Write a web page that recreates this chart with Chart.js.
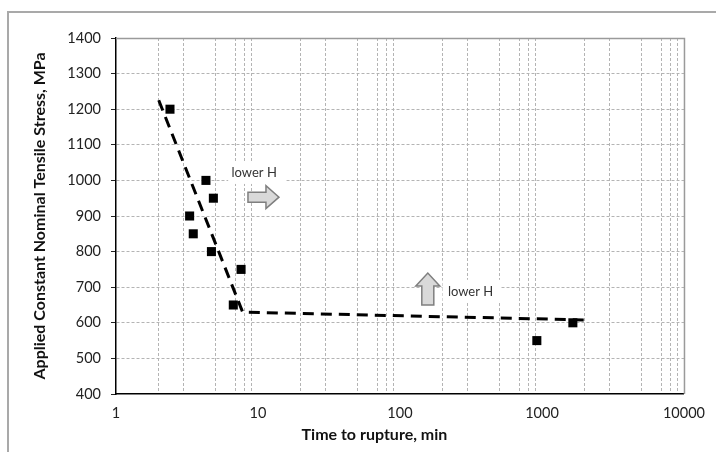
<!DOCTYPE html>
<html>
<head>
<meta charset="utf-8">
<script src="https://cdn.jsdelivr.net/npm/chart.js@4"></script>
<style>
  html, body { margin: 0; padding: 0; background: #ffffff; }
  #wrap { width: 716px; height: 452px; position: relative; }
</style>
</head>
<body>
<div id="wrap"><canvas id="c" width="716" height="452"></canvas></div>
<script>
// ---- data ----
const timeToRupture = [2.4, 4.3, 4.85, 3.3, 3.5, 4.7, 7.6, 6.7, 920, 1650];
const appliedStress = [1200, 1000, 950, 900, 850, 800, 750, 650, 550, 600];
const trendTime = [2.0, 7.8, 2000];
const trendStress = [1225, 630, 608];
const xMajorTicks = [1, 10, 100, 1000, 10000];
const yTickValues = [400, 500, 600, 700, 800, 900, 1000, 1100, 1200, 1300, 1400];
const annotationText = ['lower H', 'lower H'];
const xTitle = 'Time to rupture, min';
const yTitle = 'Applied Constant Nominal Tensile Stress, MPa';

const pointsData = timeToRupture.map((t, i) => ({ x: t, y: appliedStress[i] }));
const trendData = trendTime.map((t, i) => ({ x: t, y: trendStress[i] }));

const minorShown = [2, 3, 5, 7, 8, 9];
function mantissa(v) {
  const e = Math.floor(Math.log10(v) + 1e-9);
  return Math.round(v / Math.pow(10, e));
}

const FONT = 'Lato, "Open Sans", "DejaVu Sans", sans-serif';

const decorPlugin = {
  id: 'decor',
  beforeDraw(chart) {
    const ctx = chart.ctx;
    ctx.save();
    ctx.strokeStyle = '#a9a9a9';
    ctx.lineWidth = 2;
    ctx.strokeRect(8, 12, 760, 500);
    ctx.restore();
  },
  beforeDatasetsDraw(chart) {
    const ctx = chart.ctx;
    const xs = chart.scales.x, ys = chart.scales.y;
    const a = chart.chartArea;
    ctx.save();
    // plot area top & right border
    ctx.strokeStyle = '#9a9a9a';
    ctx.lineWidth = 1.5;
    ctx.beginPath();
    ctx.moveTo(a.left, a.top + 0.5);
    ctx.lineTo(a.right + 0.5, a.top + 0.5);
    ctx.lineTo(a.right + 0.5, a.bottom);
    ctx.stroke();

    ctx.font = '13px ' + FONT;
    ctx.textAlign = 'center';
    ctx.textBaseline = 'middle';

    // label 1 (white box + text)
    const l1x = xs.getPixelForValue(9.4), l1y = ys.getPixelForValue(1021);
    ctx.fillStyle = '#ffffff';
    ctx.fillRect(l1x - 26, l1y - 11, 58, 22);
    ctx.fillStyle = '#333333';
    ctx.fillText(annotationText[0], l1x, l1y);

    // label 2
    const l2x = xs.getPixelForValue(314), l2y = ys.getPixelForValue(687);
    ctx.fillStyle = '#ffffff';
    ctx.fillRect(l2x - 28, l2y - 12, 58, 22);
    ctx.fillStyle = '#333333';
    ctx.fillText(annotationText[1], l2x, l2y);

    ctx.fillStyle = '#d9d9d9';
    ctx.strokeStyle = '#7f7f7f';
    ctx.lineWidth = 1.5;
    ctx.lineJoin = 'miter';

    // right-pointing block arrow
    const ax = xs.getPixelForValue(8.5), ay = ys.getPixelForValue(953);
    const len = 31, sh = 5, hh = 11.5, hl = 13;
    ctx.beginPath();
    ctx.moveTo(ax, ay - sh);
    ctx.lineTo(ax + len - hl, ay - sh);
    ctx.lineTo(ax + len - hl, ay - hh);
    ctx.lineTo(ax + len, ay);
    ctx.lineTo(ax + len - hl, ay + hh);
    ctx.lineTo(ax + len - hl, ay + sh);
    ctx.lineTo(ax, ay + sh);
    ctx.closePath();
    ctx.fill();
    ctx.stroke();

    // up-pointing block arrow
    const bx = xs.getPixelForValue(157), by = ys.getPixelForValue(650);
    const ulen = 32, usw = 6, uhw = 12, uhl = 13;
    ctx.beginPath();
    ctx.moveTo(bx - usw, by);
    ctx.lineTo(bx - usw, by - ulen + uhl);
    ctx.lineTo(bx - uhw, by - ulen + uhl);
    ctx.lineTo(bx, by - ulen);
    ctx.lineTo(bx + uhw, by - ulen + uhl);
    ctx.lineTo(bx + usw, by - ulen + uhl);
    ctx.lineTo(bx + usw, by);
    ctx.closePath();
    ctx.fill();
    ctx.stroke();
    ctx.restore();
  },
  afterDraw(chart) {
    // x-axis title (placed slightly left of the plot centre, as in the reference)
    const ctx = chart.ctx;
    const a = chart.chartArea;
    ctx.save();
    ctx.font = 'bold 16px ' + FONT;
    ctx.fillStyle = '#111111';
    ctx.textAlign = 'center';
    ctx.textBaseline = 'middle';
    ctx.fillText(xTitle, a.left + (a.right - a.left) * 0.455, 435);
    ctx.restore();
  }
};

new Chart(document.getElementById('c'), {
  type: 'scatter',
  data: {
    datasets: [
      {
        label: 'data',
        data: pointsData,
        showLine: false,
        pointStyle: 'rect',
        pointRadius: 6.4,
        pointHoverRadius: 6.4,
        backgroundColor: '#000000',
        borderColor: '#000000',
        borderWidth: 0
      },
      {
        label: 'trend',
        data: trendData,
        showLine: true,
        pointRadius: 0,
        borderColor: '#000000',
        borderWidth: 3,
        borderDash: [11, 7],
        fill: false,
        tension: 0
      }
    ]
  },
  options: {
    responsive: false,
    animation: false,
    devicePixelRatio: 1,
    layout: { padding: { top: 38, right: 27, left: 0, bottom: 0 } },
    plugins: { legend: { display: false }, tooltip: { enabled: false } },
    scales: {
      x: {
        type: 'logarithmic',
        min: 1,
        max: 10000,
        afterFit(scale) { scale.height = 58; },
        afterBuildTicks(scale) {
          const t = [];
          for (let e = 0; e < 4; e++) {
            for (let m = 1; m < 10; m++) t.push({ value: m * Math.pow(10, e) });
          }
          t.push({ value: 10000 });
          scale.ticks = t;
        },
        ticks: {
          autoSkip: false,
          maxRotation: 0,
          minRotation: 0,
          padding: 11,
          color: '#222222',
          font: { family: FONT, size: 14.5 },
          callback(value) {
            return xMajorTicks.includes(value) ? String(value) : '';
          }
        },
        grid: {
          drawTicks: false,
          lineWidth: 1,
          color(ctx) {
            const v = ctx.tick && ctx.tick.value;
            if (!v) return 'rgba(0,0,0,0)';
            return minorShown.includes(mantissa(v)) ? '#b4b4b4' : 'rgba(0,0,0,0)';
          }
        },
        border: { display: true, color: '#000000', width: 1.5, dash: [3, 2] },
        title: { display: false, text: xTitle }
      },
      y: {
        type: 'linear',
        min: 400,
        max: 1400,
        afterFit(scale) { scale.width = 116; },
        afterBuildTicks(scale) {
          scale.ticks = yTickValues.map(v => ({ value: v }));
        },
        ticks: {
          padding: 10,
          color: '#222222',
          font: { family: FONT, size: 14.5 },
          callback(value) { return String(value); }
        },
        grid: {
          drawTicks: true,
          tickLength: 5,
          tickColor: '#222222',
          tickWidth: 1,
          lineWidth: 1,
          color(ctx) {
            const v = ctx.tick && ctx.tick.value;
            if (v === 400 || v === 1400) return 'rgba(0,0,0,0)';
            return '#b4b4b4';
          }
        },
        border: { display: true, color: '#000000', width: 1.5, dash: [3, 2] },
        title: {
          display: true,
          text: yTitle,
          color: '#111111',
          font: { family: FONT, size: 16, weight: 'bold' },
          padding: { top: 30, bottom: 0 }
        }
      }
    }
  },
  plugins: [decorPlugin]
});
</script>
</body>
</html>
